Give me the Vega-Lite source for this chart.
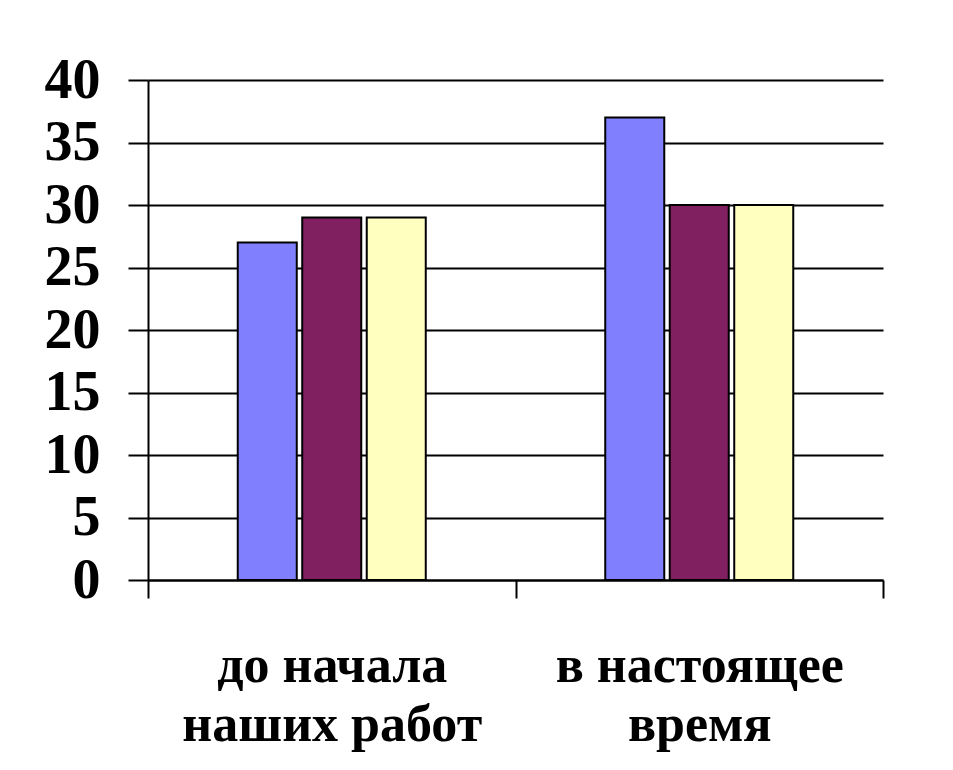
{
  "$schema": "https://vega.github.io/schema/vega-lite/v6.json",
  "width": 735,
  "height": 500,
  "autosize": {"type": "none"},
  "padding": {"left": 148, "top": 80, "right": 70, "bottom": 190},
  "background": "white",
  "config": {"view": {"stroke": null}},
  "data": {
    "values": [
      {"period": "до начала наших работ", "series": "Ряд 1", "value": 27},
      {"period": "до начала наших работ", "series": "Ряд 2", "value": 29},
      {"period": "до начала наших работ", "series": "Ряд 3", "value": 29},
      {"period": "в настоящее время", "series": "Ряд 1", "value": 37},
      {"period": "в настоящее время", "series": "Ряд 2", "value": 30},
      {"period": "в настоящее время", "series": "Ряд 3", "value": 30}
    ]
  },
  "mark": {"type": "bar", "stroke": "black", "strokeWidth": 2},
  "encoding": {
    "x": {
      "field": "period",
      "type": "nominal",
      "sort": ["до начала наших работ", "в настоящее время"],
      "scale": {"paddingInner": 0.4884, "paddingOuter": 0.2442},
      "axis": {
        "title": null,
        "labelAngle": 0,
        "bandPosition": 1.957,
        "tickExtra": true,
        "tickOffset": -90,
        "labelOffset": 90,
        "tickSize": 18,
        "tickColor": "black",
        "tickWidth": 2,
        "domainColor": "black",
        "domainWidth": 2,
        "labelFont": "'Times New Roman', 'Liberation Serif', serif",
        "labelFontWeight": "bold",
        "labelFontSize": 52,
        "labelColor": "black",
        "labelPadding": 42,
        "labelLineHeight": 59,
        "labelLimit": 500,
        "labelExpr": "datum.value == 'до начала наших работ' ? ['до начала', 'наших работ'] : (datum.value == 'в настоящее время' ? ['в настоящее', 'время'] : '')"
      }
    },
    "xOffset": {
      "field": "series",
      "type": "nominal",
      "sort": ["Ряд 1", "Ряд 2", "Ряд 3"],
      "scale": {"paddingInner": 0.085, "paddingOuter": 0}
    },
    "y": {
      "field": "value",
      "type": "quantitative",
      "scale": {"domain": [0, 40], "nice": false},
      "axis": {
        "title": null,
        "values": [0, 5, 10, 15, 20, 25, 30, 35, 40],
        "grid": true,
        "gridColor": "black",
        "gridWidth": 2,
        "gridOpacity": 1,
        "tickSize": 20,
        "tickColor": "black",
        "tickWidth": 2,
        "domainColor": "black",
        "domainWidth": 2,
        "labelFont": "'Times New Roman', 'Liberation Serif', serif",
        "labelFontWeight": "bold",
        "labelFontSize": 56,
        "labelColor": "black",
        "labelPadding": 28
      }
    },
    "color": {
      "field": "series",
      "type": "nominal",
      "scale": {"domain": ["Ряд 1", "Ряд 2", "Ряд 3"], "range": ["#8080FF", "#802060", "#FFFFC0"]},
      "legend": null
    }
  }
}
